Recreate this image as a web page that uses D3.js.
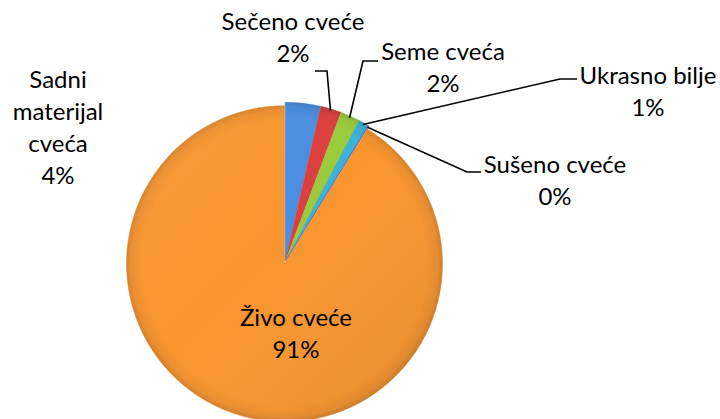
<!DOCTYPE html>
<html>
<head>
<meta charset="utf-8">
<script src="https://cdn.jsdelivr.net/npm/d3@7"></script>
<style>
  body { margin: 0; background: #fff; }
  text { font-family: Lato, "Open Sans", sans-serif; fill: #000; }
</style>
</head>
<body>
<div id="chart"></div>
<script>
// udeo kategorija cveca (procenti)
const categories = ["Sadni materijal cveća", "Sečeno cveće", "Seme cveća", "Ukrasno bilje", "Sušeno cveće", "Živo cveće"];
const values = [3.6, 2.1, 2.0, 1.0, 0.1, 91.2];
const colors = ["#4a8ee0", "#dc3f3d", "#9bcb3a", "#38b4da", "#8064a2", "#f8952f"];
// label lines as drawn (text split in rows)
const labelLines = [["Sadni", "materijal", "cveća"], ["Sečeno cveće"], ["Seme cveća"], ["Ukrasno bilje"], ["Sušeno cveće"], ["Živo cveće"]];

const width = 720, height = 419;
const cx = 285, cy = 262, radius = 158;

// label placement (center x, first baseline y), elbow of leader line
const labelLayout = [
  {x: 58, y: 88, leader: null},
  {x: 293, y: 30, leader: {ex: 327, ey: 71, tx: 315}},
  {x: 443, y: 60, leader: {ex: 363, ey: 61, tx: 378}},
  {x: 648, y: 84, leader: {ex: 560, ey: 79, tx: 577}},
  {x: 555, y: 173, leader: {ex: 467, ey: 172, tx: 481}},
  {x: 296, y: 326, leader: null}
];

const svg = d3.select("#chart").append("svg")
  .attr("width", width)
  .attr("height", height);

const defs = svg.append("defs");

const pie = d3.pie().sort(null).value(d => d);
const arcs = pie(values);
const arc = d3.arc().innerRadius(0).outerRadius(radius);
const total = d3.sum(values);
const pct = d3.format(".0%");

// bevel-like shading per slice
colors.forEach(function (c, i) {
  const g = defs.append("radialGradient")
    .attr("id", "grad" + i)
    .attr("gradientUnits", "userSpaceOnUse")
    .attr("cx", 0).attr("cy", 0).attr("r", radius);
  const base = d3.color(c);
  g.append("stop").attr("offset", "0%").attr("stop-color", base);
  g.append("stop").attr("offset", "90%").attr("stop-color", base);
  g.append("stop").attr("offset", "97%").attr("stop-color", base.darker(0.15));
  g.append("stop").attr("offset", "100%").attr("stop-color", base.darker(0.45));
});

const shine = defs.append("linearGradient")
  .attr("id", "shine")
  .attr("gradientUnits", "userSpaceOnUse")
  .attr("x1", -radius).attr("y1", -radius).attr("x2", radius).attr("y2", radius);
shine.append("stop").attr("offset", "0%").attr("stop-color", "#fff").attr("stop-opacity", 0.06);
shine.append("stop").attr("offset", "45%").attr("stop-color", "#fff").attr("stop-opacity", 0);
shine.append("stop").attr("offset", "100%").attr("stop-color", "#000").attr("stop-opacity", 0.1);

const pieG = svg.append("g").attr("transform", `translate(${cx},${cy})`);

// small explosion of each slice
function offset(d) {
  const a = (d.startAngle + d.endAngle) / 2;
  const k = 1.8;
  return `translate(${k * Math.sin(a)},${-k * Math.cos(a)})`;
}

const slices = pieG.selectAll("g.slice")
  .data(arcs)
  .enter()
  .append("g")
  .attr("class", "slice")
  .attr("transform", offset);

slices.append("path")
  .attr("d", arc)
  .attr("fill", (d, i) => `url(#grad${i})`)
  .attr("stroke", (d, i) => d3.color(colors[i]).darker(0.3))
  .attr("stroke-width", 0.5);

slices.append("path")
  .attr("d", arc)
  .attr("fill", "url(#shine)");

// leader lines
arcs.forEach(function (d, i) {
  const L = labelLayout[i].leader;
  if (!L) return;
  const a = (d.startAngle + d.endAngle) / 2;
  const px = cx + radius * Math.sin(a);
  const py = cy - radius * Math.cos(a);
  svg.append("path")
    .attr("d", d3.line()([[px, py], [L.ex, L.ey], [L.tx, L.ey]]))
    .attr("fill", "none")
    .attr("stroke", "#000")
    .attr("stroke-width", 1.6);
});

// labels
const lineH = 32;
arcs.forEach(function (d, i) {
  const lay = labelLayout[i];
  const t = svg.append("text")
    .attr("text-anchor", "middle")
    .attr("font-size", 24);
  const rows = labelLines[i].concat([pct(d.data / total)]);
  rows.forEach(function (r, j) {
    t.append("tspan")
      .attr("x", lay.x)
      .attr("y", lay.y + j * lineH)
      .text(r);
  });
});
</script>
</body>
</html>
